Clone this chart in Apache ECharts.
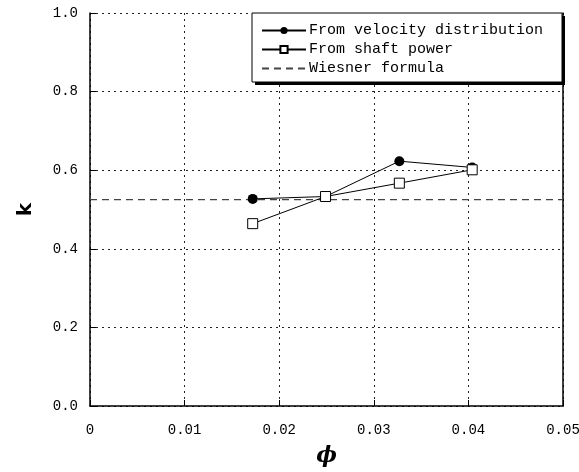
<!DOCTYPE html>
<html>
<head>
<meta charset="utf-8">
<script src="https://cdn.jsdelivr.net/npm/echarts@6/dist/echarts.min.js"></script>
<style>
html, body {margin: 0; padding: 0; background: #fff;}
#main {width: 579px; height: 472px;}
</style>
</head>
<body>
<div id="main"></div>
<script>
// phi values and k values
let phi = [0.0172, 0.0249, 0.0327, 0.0404];
let kVelocity = [0.527, 0.533, 0.623, 0.607];
let kShaft = [0.464, 0.533, 0.567, 0.601];
let wiesnerPhi = [0, 0.05];
let wiesnerK = [0.525, 0.525];
let names = ['From velocity distribution', 'From shaft power', 'Wiesner formula'];

function pairs(xs, ys){
    let out = [];
    for (let i = 0; i < xs.length; i++){
        out.push([xs[i], ys[i]]);
    }
    return out;
}

let font = "'Liberation Mono', 'DejaVu Sans Mono', monospace";
// legend box (frame + drop shadow drawn behind the legend)
let box = {x: 252, y: 13, w: 310, h: 69};
let option = {
    animation: false,
    backgroundColor: '#fff',
    grid: {left: 90, right: 16, top: 13, bottom: 66, outerBoundsMode: 'none'},
    graphic: [
        {type: 'rect', z: 50, shape: {x: box.x + 3, y: box.y + 3, width: box.w, height: box.h},
         style: {fill: '#000'}},
        {type: 'rect', z: 51, shape: {x: box.x, y: box.y, width: box.w, height: box.h},
         style: {fill: '#fff', stroke: '#000', lineWidth: 1}}
    ],
    legend: {
        orient: 'vertical',
        left: box.x + 1,
        top: box.y + 10,
        z: 60,
        padding: [0, 4, 0, 8],
        itemWidth: 44,
        itemHeight: 9,
        itemGap: 4,
        textStyle: {fontFamily: font, fontSize: 15, color: '#000', padding: [0, 0, 0, -2]},
        data: [
            {name: names[0]},
            {name: names[1]},
            {name: names[2], itemStyle: {opacity: 0}}
        ]
    },
    xAxis: [{
        type: 'value',
        min: 0,
        max: 0.05,
        interval: 0.01,
        name: 'ϕ',
        nameLocation: 'middle',
        nameGap: 39,
        nameTextStyle: {fontFamily: 'DejaVu Serif', fontSize: 22, fontWeight: 'bold', fontStyle: 'italic', color: '#000'},
        axisLine: {lineStyle: {color: '#000', width: 1.5}},
        axisTick: {inside: true, length: 6, lineStyle: {color: '#000'}},
        axisLabel: {fontFamily: font, fontSize: 14, color: '#000', margin: 17,
            formatter: v => v === 0 ? '0' : v.toFixed(2)},
        splitLine: {lineStyle: {type: [2, 4], color: '#222', width: 1}}
    }],
    yAxis: [{
        type: 'value',
        min: 0,
        max: 1,
        interval: 0.2,
        name: 'k',
        nameLocation: 'middle',
        nameGap: 54,
        nameTextStyle: {fontFamily: 'DejaVu Sans', fontSize: 20, fontWeight: 'bold', color: '#000'},
        axisLine: {lineStyle: {color: '#000', width: 1.5}},
        axisTick: {inside: true, length: 6, lineStyle: {color: '#000'}},
        axisLabel: {fontFamily: font, fontSize: 14, color: '#000', margin: 12,
            formatter: v => v.toFixed(1)},
        splitLine: {lineStyle: {type: [2, 4], color: '#222', width: 1}}
    }, {
        type: 'value',
        position: 'right',
        min: 0,
        max: 1,
        interval: 0.2,
        axisLine: {show: true, lineStyle: {color: '#000', width: 1.5}},
        axisTick: {show: false},
        axisLabel: {show: false},
        splitLine: {show: false}
    }],
    series: [
        {
            name: names[0],
            type: 'line',
            data: pairs(phi, kVelocity),
            symbol: 'circle',
            symbolSize: 10,
            itemStyle: {color: '#000'},
            lineStyle: {color: '#000', width: 1}
        },
        {
            name: names[1],
            type: 'line',
            data: pairs(phi, kShaft),
            symbol: 'rect',
            symbolSize: 10,
            itemStyle: {color: '#fff', borderColor: '#000', borderWidth: 1},
            lineStyle: {color: '#000', width: 1},
            z: 3
        },
        {
            name: names[2],
            type: 'line',
            data: pairs(wiesnerPhi, wiesnerK),
            symbol: 'none',
            itemStyle: {color: '#444'},
            lineStyle: {color: '#444', width: 1.2, type: [7, 5]},
            z: 1
        }
    ]
};

let chart = echarts.init(document.getElementById('main'));
chart.setOption(option);
</script>
</body>
</html>
